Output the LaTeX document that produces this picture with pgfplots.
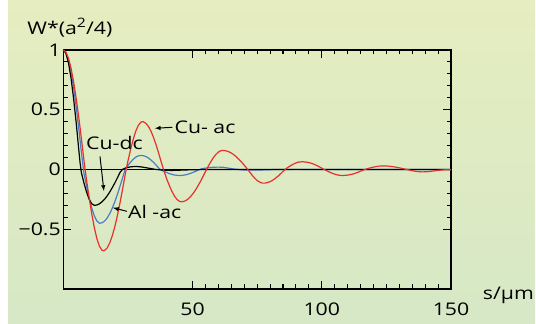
\documentclass[border=0pt]{standalone}
\usepackage{fontspec}
\setmainfont[FakeStretch=1.22]{Open Sans}
\usepackage{pgfplots}
\pgfplotsset{compat=1.18}
\definecolor{bgtop}{RGB}{230,237,192}
\definecolor{bgbot}{RGB}{214,232,198}
\definecolor{cured}{RGB}{232,48,42}
\definecolor{alblue}{RGB}{74,124,200}
\newcommand{\lf}{\fontsize{17.5}{19}\selectfont}
\begin{document}
\begin{tikzpicture}
\useasboundingbox (0,0) rectangle (536bp,324bp);
\shade[top color=bgtop,bottom color=bgbot] (8bp,0) rectangle (535bp,323bp);
\begin{axis}[
  at={(63.3bp,35bp)}, anchor=south west,
  scale only axis, width=387.7bp, height=239bp,
  xmin=0, xmax=150, ymin=-1, ymax=1,
  axis line style={line width=1.2pt},
  xtick={50,100,150}, minor x tick num=9,
  ytick={-0.5,0,0.5,1}, yticklabels={−0.5,0,0.5,1}, minor y tick num=4,
  tick align=inside, tick style={black, line width=1.1pt},
  major tick length=8bp, minor tick length=4.5bp,
  /pgf/number format/assume math mode=true,
  ticklabel style={font=\lf},
  xticklabel style={yshift=-10bp},
  yticklabel style={xshift=1bp},
  clip=false,
]
\addplot[black, line width=1pt] coordinates {(0,0) (150,0)};
\addplot[alblue, line width=1.2pt] coordinates {
(0,1) (1,0.979) (2,0.918) (3,0.818) (4,0.685) (5,0.523) (6,0.34) (7,0.142)
(8,-0.033) (9,-0.139) (10,-0.238) (11,-0.322) (12,-0.388) (13,-0.431) (14,-0.45)
(15,-0.446) (16,-0.431) (17,-0.405) (18,-0.368) (19,-0.321) (20,-0.266) (21,-0.204) (22,-0.136) (23,-0.065) (24,0.004)
(25,0.033) (26,0.061) (27,0.084) (28,0.103) (29,0.114) (30,0.118) (31,0.115) (32,0.108) (33,0.095) (34,0.078) (35,0.058) (36,0.035) (37,0.01)
(38,-0.006) (39,-0.016) (40,-0.025) (41,-0.034) (42,-0.041) (43,-0.046) (44,-0.049) (45,-0.05) (46,-0.049) (47,-0.046) (48,-0.041) (49,-0.034) (50,-0.026) (51,-0.017) (52,-0.007)
(53,0.002) (54,0.008) (56,0.015) (58,0.019) (60,0.02) (62,0.018) (64,0.011) (66,0.004) (68,-0.001) (70,-0.004) (74,-0.005) (78,-0.003) (82,0) (90,0.001) (100,0) (120,0) (150,0)
};
\addplot[black, line width=1.2pt] coordinates {
(0,1) (1,0.973) (2,0.892) (3,0.763) (4,0.591) (5,0.389) (6,0.163) (6.5,0.055)
(7,-0.027) (8,-0.113) (9,-0.189) (10,-0.249) (11,-0.287) (12,-0.30)
(13,-0.297) (14,-0.287) (15,-0.27) (16,-0.248) (17,-0.22) (18,-0.187) (19,-0.15) (20,-0.11) (21,-0.067) (22,-0.022)
(23,0.002) (24,0.012) (25,0.018) (26,0.022) (27,0.024) (28,0.025) (29,0.024) (30,0.022) (32,0.015) (34,0.007) (36,0) (39,-0.006) (42,-0.008) (46,-0.005) (50,-0.002) (55,0) (150,0)
};
\addplot[cured, line width=1.2pt] coordinates {
(0,1) (1,0.983) (2,0.931) (3,0.847) (4,0.733) (5,0.593) (6,0.434) (7,0.259) (8,0.075)
(9,-0.09) (10,-0.236) (11,-0.37) (12,-0.486) (13,-0.579) (14,-0.643) (15,-0.676) (15.5,-0.68)
(16,-0.677) (17,-0.656) (18,-0.613) (19,-0.551) (20,-0.473) (21,-0.378) (22,-0.272) (23,-0.157) (24,-0.037)
(25,0.07) (26,0.164) (27,0.249) (28,0.319) (29,0.368) (30,0.396) (30.6,0.40)
(31,0.399) (32,0.385) (33,0.358) (34,0.317) (35,0.263) (36,0.2) (37,0.129) (38,0.054)
(39,-0.015) (40,-0.078) (41,-0.133) (42,-0.182) (43,-0.222) (44,-0.251) (45,-0.267) (46,-0.27)
(47,-0.264) (48,-0.252) (49,-0.232) (50,-0.207) (51,-0.177) (52,-0.141) (53,-0.103) (54,-0.061) (55,-0.017)
(56,0.024) (57,0.062) (58,0.097) (59,0.125) (60,0.146) (61,0.158) (62,0.16)
(63,0.156) (64,0.149) (65,0.138) (66,0.123) (67,0.105) (68,0.084) (69,0.061) (70,0.036) (71,0.01)
(72,-0.018) (73,-0.046) (74,-0.071) (75,-0.092) (76,-0.106) (77,-0.114) (78,-0.114) (79,-0.109) (80,-0.102) (81,-0.09) (82,-0.075) (83,-0.057) (84,-0.037) (85,-0.016)
(86,0.004) (87,0.019) (88,0.033) (89,0.045) (90,0.055) (91,0.062) (92.5,0.065) (94,0.062) (95,0.058) (96,0.052) (97,0.044) (98,0.034) (99,0.023) (100,0.011)
(101,0) (102,-0.011) (103,-0.022) (104,-0.031) (105,-0.039) (106,-0.045) (107,-0.049) (108,-0.05) (109,-0.049) (110,-0.047) (111,-0.043) (112,-0.038) (113,-0.031) (114,-0.023) (115,-0.014) (116,-0.005)
(117,0.002) (118,0.009) (119,0.015) (120,0.02) (121,0.024) (122,0.028) (123.6,0.03) (125,0.029) (126,0.028) (127,0.025) (128,0.022) (129,0.018) (130,0.014) (131,0.009) (132,0.004) (133,0)
(134,-0.005) (135,-0.01) (136,-0.014) (137,-0.017) (138,-0.019) (139,-0.02) (140,-0.019) (141,-0.018) (142,-0.016) (143,-0.013) (144,-0.01) (145,-0.007) (147,-0.003) (150,-0.002)
};
\node[anchor=west, font=\lf, inner sep=0pt] at (axis cs:43,0.353) {Cu- ac};
\draw[-latex, line width=1pt] (axis cs:42.2,0.353) -- (axis cs:35.4,0.345);
\node[anchor=center, font=\lf, inner sep=0pt] at (axis cs:19.8,0.22) {Cu-dc};
\draw[-latex, line width=1pt] (axis cs:14.2,0.11) -- (axis cs:15.7,-0.18);
\node[anchor=west, font=\lf, inner sep=0pt] at (axis cs:25,-0.355) {Al -ac};
\draw[-latex, line width=1pt] (axis cs:24.6,-0.35) -- (axis cs:19.2,-0.32);
\node[anchor=west, font=\lf, inner sep=0pt] at (rel axis cs:-0.093,1.092) {W*(a\raisebox{0.42em}{\fontsize{13}{13}\selectfont 2}/4)};
\node[anchor=west, font=\lf, inner sep=0pt] at (rel axis cs:1.082,-0.025) {s/µm};
\end{axis}
\end{tikzpicture}
\end{document}
